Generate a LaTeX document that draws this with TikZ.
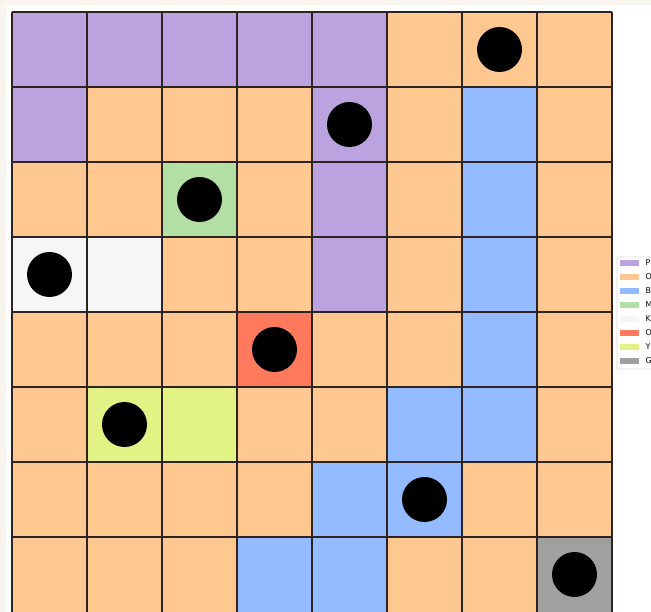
\documentclass[tikz,border=0pt]{standalone}
\usepackage{fontspec}
\setmainfont{DejaVu Sans}
\definecolor{cP}{RGB}{187,163,224}
\definecolor{cO}{RGB}{255,200,145}
\definecolor{cB}{RGB}{148,187,255}
\definecolor{cG}{RGB}{178,223,164}
\definecolor{cW}{RGB}{244,246,248}
\definecolor{cR}{RGB}{255,122,92}
\definecolor{cY}{RGB}{226,242,133}
\definecolor{cK}{RGB}{160,160,160}
\definecolor{pagebg}{RGB}{248,244,238}
\definecolor{gridc}{RGB}{45,35,35}
\tikzset{
  gridline/.style={draw=gridc, line width=1.2pt},
  token/.style={fill=black},
  legframe/.style={draw=black!15, fill=white, rounded corners=2pt, line width=0.8pt},
  legtext/.style={anchor=west, inner sep=0pt, font=\fontsize{8}{9}\selectfont}
}
\begin{document}
\begin{tikzpicture}[x=1pt,y=-1pt]
\useasboundingbox (0,0) rectangle (651,612);
\fill[pagebg] (0,0) rectangle (651,612);
\fill[white] (5.5,5.5) rectangle (651,612);
% cells
\foreach \row [count=\r from 0] in {
  {P,P,P,P,P,O,O,O},
  {P,O,O,O,P,O,B,O},
  {O,O,G,O,P,O,B,O},
  {W,W,O,O,P,O,B,O},
  {O,O,O,R,O,O,B,O},
  {O,Y,Y,O,O,B,B,O},
  {O,O,O,O,B,B,O,O},
  {O,O,O,B,B,O,O,K}}{
  \foreach \c [count=\k from 0] in \row {
    \fill[c\c] ({12+75*\k},{12+75*\r}) rectangle ++(75,75);
  }
}
% grid
\foreach \i in {0,...,8} {
  \draw[gridline] ({12+75*\i},12) -- ({12+75*\i},612);
}
\foreach \i in {0,...,7} {
  \draw[gridline] (12,{12+75*\i}) -- (612,{12+75*\i});
}
% tokens
\foreach \cx/\cy in {6/0,4/1,2/2,0/3,3/4,1/5,5/6,7/7} {
  \fill[token] ({12+75*\cx+37.5},{12+75*\cy+37.5}) circle (22.5);
}
% legend
\draw[legframe] (617,257) rectangle (700,369);
\foreach \c/\t [count=\n from 0] in {P/P,O/O,B/B,G/M,W/K,R/O,Y/Y,K/G} {
  \fill[c\c] (619.5,{260+14*\n}) rectangle (638.5,{266+14*\n});
  \node[legtext] (leg\n) at (645.5,{263+14*\n}) {\t};
}
\end{tikzpicture}
\end{document}
